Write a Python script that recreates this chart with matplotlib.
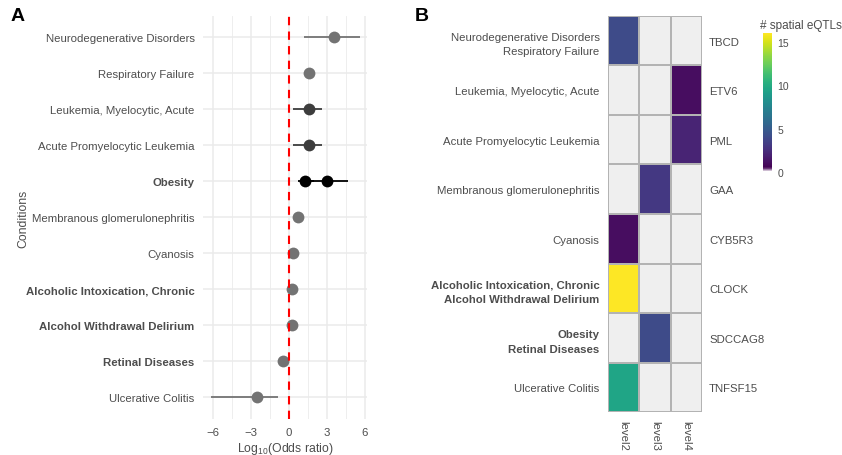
import numpy as np
import matplotlib
matplotlib.use('Agg')
import matplotlib.pyplot as plt
from matplotlib.colors import LinearSegmentedColormap

plt.rcParams['font.family'] = ['Liberation Sans', 'DejaVu Sans']
plt.rcParams['mathtext.fontset'] = 'custom'
plt.rcParams['mathtext.rm'] = 'Liberation Sans'

# Panel A data (top to bottom)
conditions = ['Neurodegenerative Disorders', 'Respiratory Failure', 'Leukemia, Myelocytic, Acute',
              'Acute Promyelocytic Leukemia', 'Obesity', 'Membranous glomerulonephritis', 'Cyanosis',
              'Alcoholic Intoxication, Chronic', 'Alcohol Withdrawal Delirium', 'Retinal Diseases',
              'Ulcerative Colitis']
bold_conditions = ['Obesity', 'Alcoholic Intoxication, Chronic', 'Alcohol Withdrawal Delirium', 'Retinal Diseases']
# one entry per estimate (Obesity has two)
est_condition = ['Neurodegenerative Disorders', 'Respiratory Failure', 'Leukemia, Myelocytic, Acute',
                 'Acute Promyelocytic Leukemia', 'Obesity', 'Obesity', 'Membranous glomerulonephritis',
                 'Cyanosis', 'Alcoholic Intoxication, Chronic', 'Alcohol Withdrawal Delirium',
                 'Retinal Diseases', 'Ulcerative Colitis']
log_or = [3.6, 1.6, 1.6, 1.6, 1.3, 3.0, 0.7, 0.35, 0.25, 0.25, -0.45, -2.5]
ci_low = [1.2, 1.45, 0.3, 0.3, 0.7, 1.4, 0.6, 0.25, 0.15, 0.15, -0.55, -6.2]
ci_high = [5.6, 1.75, 2.6, 2.6, 2.0, 4.7, 0.8, 0.45, 0.35, 0.35, -0.35, -0.85]
point_colors = ['#737373', '#737373', '#3d3d3d', '#3d3d3d', '#000000', '#000000', '#737373',
                '#737373', '#737373', '#737373', '#737373', '#737373']

# Panel B data (top to bottom)
heat_rows = ['Neurodegenerative Disorders\nRespiratory Failure', 'Leukemia, Myelocytic, Acute',
             'Acute Promyelocytic Leukemia', 'Membranous glomerulonephritis', 'Cyanosis',
             'Alcoholic Intoxication, Chronic\nAlcohol Withdrawal Delirium', 'Obesity\nRetinal Diseases',
             'Ulcerative Colitis']
heat_bold = [False, False, False, False, False, True, True, False]
genes = ['TBCD', 'ETV6', 'PML', 'GAA', 'CYB5R3', 'CLOCK', 'SDCCAG8', 'TNFSF15']
levels = ['level2', 'level3', 'level4']
eqtl_counts = [
    [4, np.nan, np.nan],
    [np.nan, np.nan, 1],
    [np.nan, np.nan, 2],
    [np.nan, 3, np.nan],
    [1, np.nan, np.nan],
    [16, np.nan, np.nan],
    [np.nan, 4, np.nan],
    [9.5, np.nan, np.nan],
]

txt_col = '#4d4d4d'
grid_col = '#ebebeb'
fs = 8.2

fig = plt.figure(figsize=(8.42, 4.56), dpi=100)

# ---- Panel A ----
ax = fig.add_axes([0.241, 0.079, 0.195, 0.884])
n = len(conditions)
ypos = {c: n - 1 - i for i, c in enumerate(conditions)}
for c, m, lo, hi, col in zip(est_condition, log_or, ci_low, ci_high, point_colors):
    y = ypos[c]
    ax.plot([lo, hi], [y, y], color=col, lw=1.3, zorder=3, solid_capstyle='butt')
    ax.plot(m, y, 'o', color=col, ms=8.5, mec='none', zorder=4)
ax.axvline(0, color='red', ls=(0, (4, 3)), lw=1.5, zorder=5)
ax.set_xlim(-6.8, 6.2)
ax.set_ylim(-0.6, n - 0.4)
ax.set_xticks([-6, -3, 0, 3, 6])
ax.set_xticklabels(['\u22126', '\u22123', '0', '3', '6'])
ax.set_xticks([-4.5, -1.5, 1.5, 4.5], minor=True)
ax.set_yticks([ypos[c] for c in conditions])
ax.set_yticklabels(conditions)
for lab in ax.get_yticklabels():
    if lab.get_text() in bold_conditions:
        lab.set_fontweight('bold')
ax.grid(True, which='major', color=grid_col, lw=1.1, zorder=0)
ax.grid(True, which='minor', axis='x', color=grid_col, lw=0.6, zorder=0)
ax.set_axisbelow(True)
for s in ax.spines.values():
    s.set_visible(False)
ax.tick_params(which='both', length=0, labelsize=fs, labelcolor=txt_col, pad=6)
ax.set_xlabel(r'Log$_{10}$(Odds ratio)', fontsize=8.8, color=txt_col, labelpad=2)
ax.set_ylabel('Conditions', fontsize=8.8, color=txt_col)
ax.yaxis.set_label_coords(-1.06, 0.5)
fig.text(0.012, 0.955, 'A', fontsize=14, fontweight='bold')

# ---- Panel B ----
vir = plt.get_cmap('viridis')
cmap = LinearSegmentedColormap.from_list(
    'wv', [(0, '#ffffff')] + [(0.03 + 0.97 * t, vir(t)) for t in np.linspace(0, 1, 30)])
cmap.set_bad('#efefef')
data = np.ma.masked_invalid(np.array(eqtl_counts, dtype=float))
axh = fig.add_axes([0.722, 0.094, 0.112, 0.869])
mesh = axh.pcolormesh(np.arange(len(levels) + 1), np.arange(len(heat_rows) + 1), data,
                      cmap=cmap, vmin=0, vmax=16, edgecolors='#b3b3b3', linewidth=1.2)
axh.set_xlim(0, len(levels))
axh.set_ylim(len(heat_rows), 0)
axh.set_yticks(np.arange(len(heat_rows)) + 0.5)
axh.set_yticklabels(heat_rows)
for lab, b in zip(axh.get_yticklabels(), heat_bold):
    lab.set_multialignment('right')
    lab.set_linespacing(1.6)
    if b:
        lab.set_fontweight('bold')
axh.set_xticks(np.arange(len(levels)) + 0.5)
axh.set_xticklabels(levels, rotation=270)
axh.tick_params(length=0, labelsize=fs, labelcolor=txt_col, pad=6)
for s in axh.spines.values():
    s.set_visible(False)
ax2 = axh.twinx()
ax2.set_ylim(len(heat_rows), 0)
ax2.set_yticks(np.arange(len(heat_rows)) + 0.5)
ax2.set_yticklabels(genes)
ax2.tick_params(length=0, labelsize=fs, labelcolor=txt_col, pad=5)
for s in ax2.spines.values():
    s.set_visible(False)
fig.text(0.492, 0.955, 'B', fontsize=14, fontweight='bold')

# colorbar
cax = fig.add_axes([0.906, 0.621, 0.0107, 0.304])
cb = fig.colorbar(mesh, cax=cax, ticks=[0, 5, 10, 15])
cb.outline.set_visible(False)
cax.tick_params(length=0, labelsize=7.5, labelcolor=txt_col, pad=4)
fig.text(0.903, 0.937, '# spatial eQTLs', fontsize=8.5, color=txt_col)

fig.savefig('out.png', dpi=100)
